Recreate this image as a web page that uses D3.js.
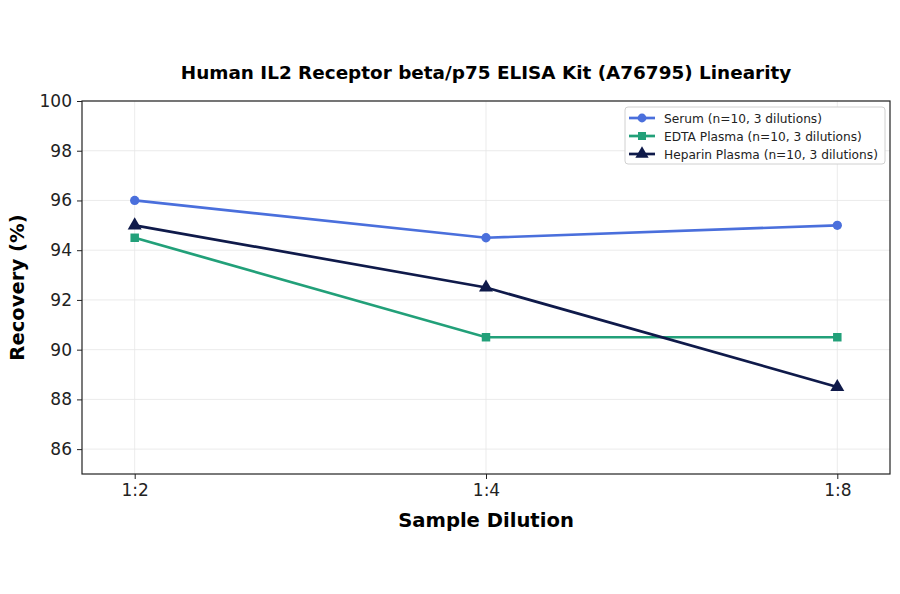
<!DOCTYPE html>
<html>
<head>
<meta charset="utf-8">
<script src="https://cdn.jsdelivr.net/npm/d3@7"></script>
<style>
  body { margin: 0; background: #fff; }
  text { font-family: "DejaVu Sans", sans-serif; }
</style>
</head>
<body>
<div id="chart"></div>
<script>
// データ
const dilutions = ["1:2", "1:4", "1:8"];
const serumValues = [96, 94.5, 95];
const edtaValues = [94.5, 90.5, 90.5];
const heparinValues = [95, 92.5, 88.5];
const seriesNames = ["Serum (n=10, 3 dilutions)", "EDTA Plasma (n=10, 3 dilutions)", "Heparin Plasma (n=10, 3 dilutions)"];
const yTicks = [86, 88, 90, 92, 94, 96, 98, 100];

const series = [
    { name: seriesNames[0], values: serumValues, color: "#4a6fdc", symbol: d3.symbolCircle, size: 68 },
    { name: seriesNames[1], values: edtaValues, color: "#22a079", symbol: d3.symbolSquare, size: 72 },
    { name: seriesNames[2], values: heparinValues, color: "#0f1a4a", symbol: d3.symbolTriangle, size: 85 }
];

const svg = d3.select("#chart").append("svg")
              .attr("width", 900)
              .attr("height", 594);

const plotLeft = 82, plotRight = 890, plotTop = 101, plotBottom = 474;

const x = d3.scalePoint().domain(dilutions).range([plotLeft, plotRight]).padding(0.15);
const y = d3.scaleLinear().domain([85, 100]).range([plotBottom, plotTop]);

// グリッド
svg.append("g").selectAll("line")
   .data(yTicks).enter().append("line")
   .attr("x1", plotLeft).attr("x2", plotRight)
   .attr("y1", d => y(d)).attr("y2", d => y(d))
   .attr("stroke", "#e6e6e6").attr("stroke-width", 0.8);
svg.append("g").selectAll("line")
   .data(dilutions).enter().append("line")
   .attr("x1", d => x(d)).attr("x2", d => x(d))
   .attr("y1", plotTop).attr("y2", plotBottom)
   .attr("stroke", "#e6e6e6").attr("stroke-width", 0.8);

// 軸
const xAxis = svg.append("g")
   .attr("transform", `translate(0,${plotBottom})`)
   .call(d3.axisBottom(x).tickSize(5).tickPadding(5));
const yAxis = svg.append("g")
   .attr("transform", `translate(${plotLeft},0)`)
   .call(d3.axisLeft(y).tickValues(yTicks).tickSize(5).tickPadding(5));
[xAxis, yAxis].forEach(a => {
    a.select(".domain").remove();
    a.selectAll("text").attr("font-size", "17px").attr("fill", "#222").style("font-family", "DejaVu Sans");
    a.selectAll("line").attr("stroke", "#222");
});

svg.append("rect")
   .attr("x", plotLeft).attr("y", plotTop)
   .attr("width", plotRight - plotLeft).attr("height", plotBottom - plotTop)
   .attr("fill", "none").attr("stroke", "#222").attr("stroke-width", 1.2);

// 線とマーカー
const line = d3.line().x((d, i) => x(dilutions[i])).y(d => y(d));
series.forEach(s => {
    svg.append("path")
       .datum(s.values)
       .attr("d", line)
       .attr("fill", "none")
       .attr("stroke", s.color)
       .attr("stroke-width", 2.7);
    svg.append("g").selectAll("path")
       .data(s.values).enter().append("path")
       .attr("transform", (d, i) => `translate(${x(dilutions[i])},${y(d)})`)
       .attr("d", d3.symbol().type(s.symbol).size(s.size))
       .attr("fill", s.color);
});

// タイトルとラベル
svg.append("text")
   .attr("x", (plotLeft + plotRight) / 2).attr("y", 79)
   .attr("text-anchor", "middle")
   .attr("font-size", "18.4px").attr("font-weight", "bold")
   .text("Human IL2 Receptor beta/p75 ELISA Kit (A76795) Linearity");
svg.append("text")
   .attr("x", (plotLeft + plotRight) / 2).attr("y", 527)
   .attr("text-anchor", "middle")
   .attr("font-size", "19.6px").attr("font-weight", "bold")
   .text("Sample Dilution");
svg.append("text")
   .attr("transform", `translate(24,${(plotTop + plotBottom) / 2}) rotate(-90)`)
   .attr("text-anchor", "middle")
   .attr("font-size", "19.6px").attr("font-weight", "bold")
   .text("Recovery (%)");

// 凡例
const legend = svg.append("g").attr("transform", "translate(625,107)");
legend.append("rect")
      .attr("width", 260).attr("height", 57).attr("rx", 3)
      .attr("fill", "#fff").attr("stroke", "#d0d0d0");
series.forEach((s, i) => {
    const g = legend.append("g").attr("transform", `translate(0,${11 + i * 18})`);
    g.append("line").attr("x1", 4).attr("x2", 30).attr("y1", 0).attr("y2", 0)
     .attr("stroke", s.color).attr("stroke-width", 2.7);
    g.append("path").attr("transform", "translate(17,0)")
     .attr("d", d3.symbol().type(s.symbol).size(s.size * 0.9)).attr("fill", s.color);
    g.append("text").attr("x", 39).attr("y", 4.5)
     .attr("font-size", "12.2px").attr("fill", "#222").text(s.name);
});
</script>
</body>
</html>
